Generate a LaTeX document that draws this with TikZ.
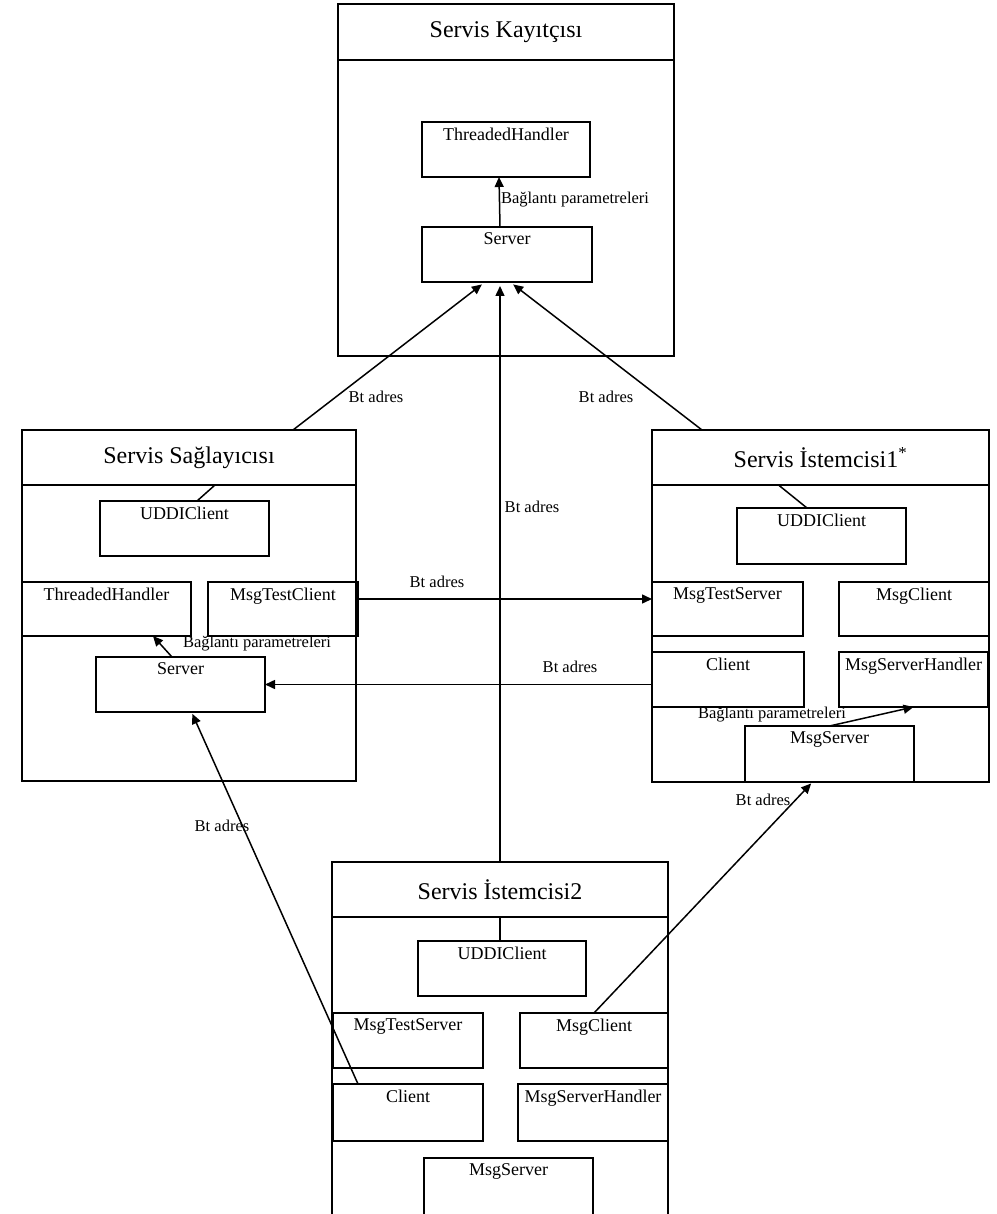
\documentclass[tikz,border=0pt]{standalone}
\usepackage{fontspec}
\setmainfont{Liberation Serif}
\usetikzlibrary{arrows.meta}

% inner component box: name, x1, y1, x2, y2, caption (caption at the top)
\newcommand\mkbox[6]{%
  \node[cbox, anchor=north west, minimum width={#4-#2}, minimum height={#5-#3},
        label={[lbl]north:#6}] (#1) at (#2,#3) {};}
% header strip of a component group: name, x1, y1, x2, y2, title
\newcommand\mkhead[6]{%
  \node[cbox, ttl, anchor=north west, minimum width={#4-#2}, minimum height={#5-#3}]
        (#1) at (#2,#3) {#6};}

\begin{document}
\begin{tikzpicture}[x=1pt,y=-1pt,
  every node/.style={outer sep=0pt},
  cbox/.style={draw, line width=1.6pt, rectangle, inner sep=0pt},
  lbl/.style={anchor=north, inner sep=0pt, yshift=-6pt, font=\fontsize{18}{20}\selectfont},
  ttl/.style={font=\fontsize{24}{28}\selectfont},
  link/.style={line width=1.5pt},
  arr/.style={line width=1.5pt, -{Triangle[length=10pt,width=9pt]}},
  clabel/.style={font=\fontsize{16.5}{18}\selectfont, inner sep=0pt}
]
\useasboundingbox (0,0) rectangle (996,1214);

% ---------- Servis Kayıtçısı ----------
\mkhead{kh}{338}{4}{674}{60}{Servis Kayıtçısı}
\node[cbox, anchor=north west, minimum width=336, minimum height=296] (kb) at (338,60) {};
\mkbox{kth}{422}{122}{590}{177}{ThreadedHandler}
\mkbox{ks}{422}{227}{592}{282}{Server}

% ---------- Servis Sağlayıcısı ----------
\mkhead{sph}{22}{430}{356}{485}{Servis Sağlayıcısı}
\node[cbox, anchor=north west, minimum width=334, minimum height=296] (spb) at (22,485) {};
\mkbox{lu}{100}{501}{269}{556}{UDDIClient}
\mkbox{lth}{22}{582}{191}{636}{ThreadedHandler}
\mkbox{ltc}{208}{582}{358}{636}{MsgTestClient}
\mkbox{ls}{96}{657}{265}{712}{Server}

% ---------- Servis İstemcisi1* ----------
\mkhead{s1h}{652}{430}{989}{485}{Servis İstemcisi1\textsuperscript{*}}
\node[cbox, anchor=north west, minimum width=337, minimum height=297] (s1b) at (652,485) {};
\mkbox{ru}{737}{508}{906}{564}{UDDIClient}
\mkbox{rts}{652}{582}{803}{636}{MsgTestServer}
\mkbox{rmc}{839}{582}{989}{636}{MsgClient}
\mkbox{rc}{652}{652}{804}{707}{Client}
\mkbox{rmh}{839}{652}{988}{707}{MsgServerHandler}
\mkbox{rms}{745}{726}{914}{782}{MsgServer}

% ---------- Servis İstemcisi2 ----------
\mkhead{s2h}{332}{862}{668}{917}{Servis İstemcisi2}
\node[cbox, anchor=north west, minimum width=336, minimum height=330] (s2b) at (332,917) {};
\mkbox{bu}{418}{941}{586}{996}{UDDIClient}
\mkbox{bts}{333}{1013}{483}{1068}{MsgTestServer}
\mkbox{bmc}{520}{1013}{668}{1068}{MsgClient}
\mkbox{bc}{333}{1084}{483}{1141}{Client}
\mkbox{bmh}{518}{1084}{668}{1141}{MsgServerHandler}
\mkbox{bms}{424}{1158}{593}{1240}{MsgServer}

% ---------- header to UDDIClient links ----------
\draw[link] ([xshift=26pt]sph.south) -- ([xshift=12.5pt]lu.north);
\draw[link] ([xshift=-42pt]s1h.south) -- ([xshift=-14.5pt]ru.north);
\draw[link] (s2h.south) -- ([xshift=-2pt]bu.north);

% ---------- connection parameters inside groups ----------
\draw[arr] ([xshift=-7pt]ks.north) -- ([xshift=-7pt]kth.south);
\node[clabel, anchor=west] (kbp) at (501,200) {Bağlantı parametreleri};

\draw[arr] ([xshift=-8.5pt]ls.north) -- ([xshift=-38pt]lth.south east);
\node[clabel, anchor=west] (lbp) at (183,644) {Bağlantı parametreleri};

\draw[arr] (rms.north) -- (rmh.south);
\node[clabel, anchor=west] (rbp) at (698,715) {Bağlantı parametreleri};

% ---------- Bt adres links ----------
\draw[arr, shorten >=4pt] ([xshift=271pt]sph.north west) -- ([xshift=-22pt]ks.south);
\node[clabel] (a1) at (376,397) {Bt adres};

\draw[arr, shorten >=4pt] (s2h.north) -- ([xshift=-7pt]ks.south);
\node[clabel] (a2) at (532,507) {Bt adres};

\draw[arr, shorten >=4pt] ([xshift=50pt]s1h.north west) -- ([xshift=3pt]ks.south);
\node[clabel] (a3) at (606,397) {Bt adres};

\draw[arr] ([yshift=10pt]ltc.east) -- ([yshift=10pt]rts.west);
\node[clabel] (a4) at (437,582) {Bt adres};

\draw[arr] (rc.west |- ls.east) -- (ls.east);
\node[clabel] (a5) at (570,667) {Bt adres};

\draw[arr, shorten >=2pt] ([xshift=25pt]bc.north west) -- ([xshift=11pt]ls.south);
\node[clabel] (a6) at (222,826) {Bt adres};

\draw[arr, shorten >=2pt] (bmc.north) -- ([xshift=-17pt]rms.south);
\node[clabel] (a7) at (763,800) {Bt adres};

\end{tikzpicture}
\end{document}
